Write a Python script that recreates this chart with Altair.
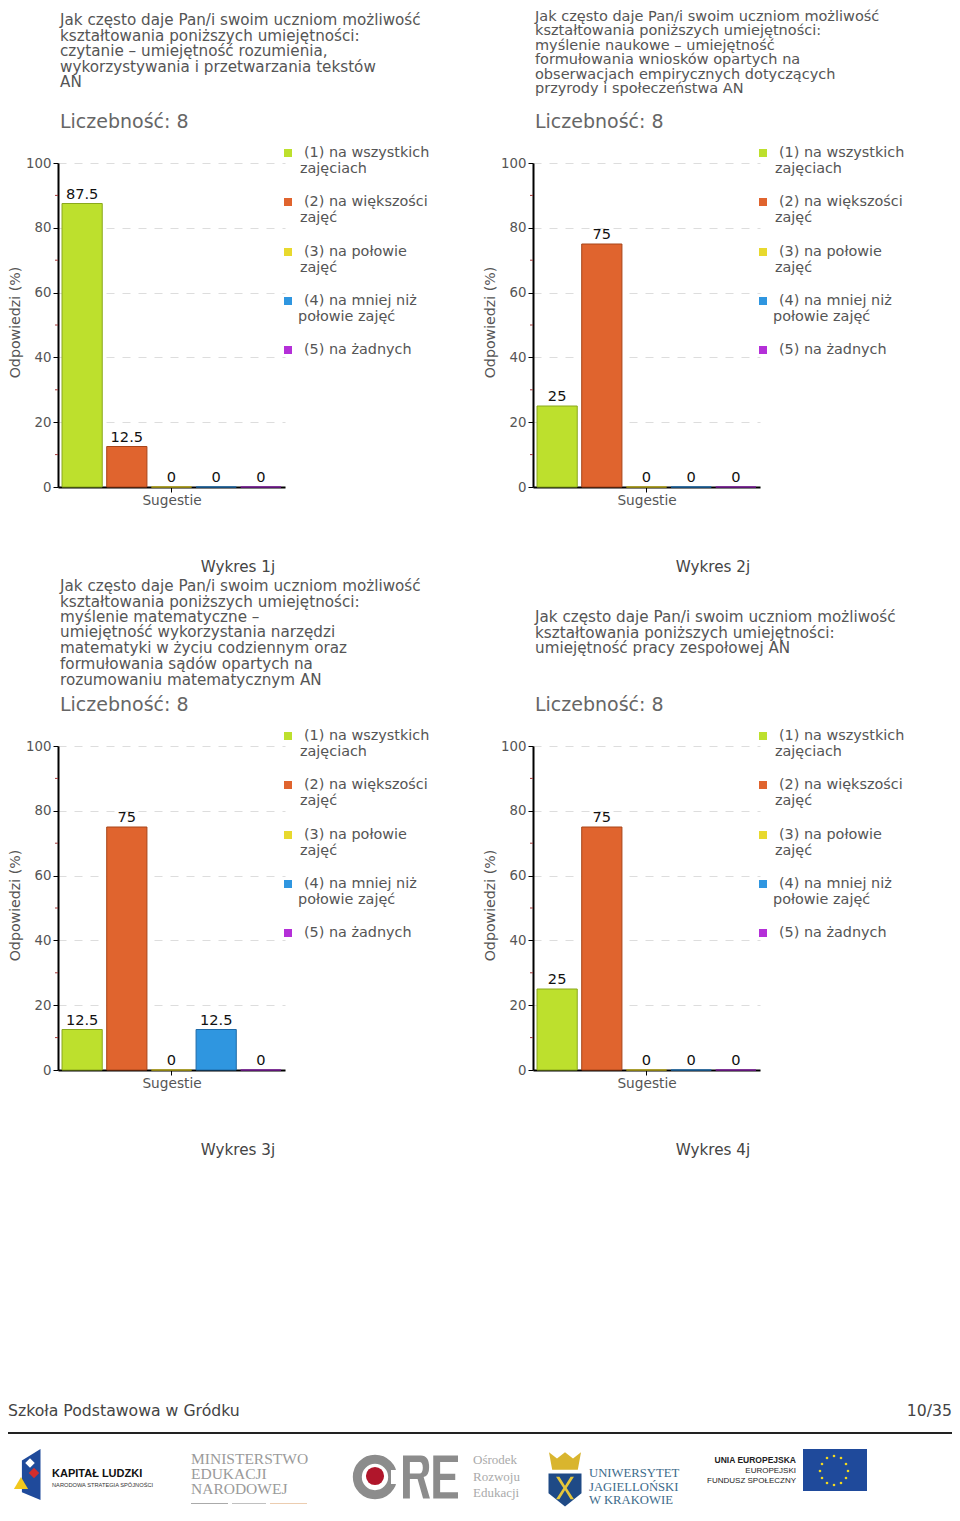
import altair as alt
import pandas as pd

categories = ["(1) na wszystkich zajęciach", "(2) na większości zajęć", "(3) na połowie zajęć",
              "(4) na mniej niż połowie zajęć", "(5) na żadnych"]
colors = ["#bde02d", "#e0642e", "#e8d92e", "#2f96e0", "#b42fd8"]
strokes = ["#8aa81c", "#a84418", "#b8a818", "#1f6aa8", "#7e1c9c"]
values_1 = [87.5, 12.5, 0, 0, 0]
values_2 = [25, 75, 0, 0, 0]
values_3 = [12.5, 75, 0, 12.5, 0]
values_4 = [25, 75, 0, 0, 0]
captions = ["Wykres 1j", "Wykres 2j", "Wykres 3j", "Wykres 4j"]
common_1 = "Jak często daje Pan/i swoim uczniom możliwość"
common_2 = "kształtowania poniższych umiejętności:"
question_1 = [common_1, common_2, "czytanie – umiejętność rozumienia,",
              "wykorzystywania i przetwarzania tekstów", "AN"]
question_2 = [common_1, common_2, "myślenie naukowe – umiejętność", "formułowania wniosków opartych na",
              "obserwacjach empirycznych dotyczących", "przyrody i społeczeństwa AN"]
question_3 = [common_1, common_2, "myślenie matematyczne –", "umiejętność wykorzystania narzędzi",
              "matematyki w życiu codziennym oraz", "formułowania sądów opartych na",
              "rozumowaniu matematycznym AN"]
question_4 = [common_1, common_2, "umiejętność pracy zespołowej AN"]
question_y_1 = [20, 36, 51, 67, 82]
question_y_2 = [16.5, 31, 45.5, 60, 74.5, 89]
question_y_3 = [586, 602, 617, 632, 648, 664, 680]
question_y_4 = [617, 633, 648]
legend_lines = [("(1) na wszystkich", "zajęciach"), ("(2) na większości", "zajęć"), ("(3) na połowie", "zajęć"),
                ("(4) na mniej niż", "połowie zajęć"), ("(5) na żadnych", "")]
legend_y = [152, 201, 251, 300, 349]
minor_ticks = [10, 30, 50, 70, 90]
count_label = "Liczebność: 8"
footer_left = "Szkoła Podstawowa w Gródku"
footer_right = "10/35"

FONT = "DejaVu Sans"
GREY = "#555555"
ONE = pd.DataFrame({"a": [0]})
PW, PH = 227, 324
P_X = [58, 533]
P_Y = [163, 746]


def txt(s, x, y, ox, oy, size=13, color=GREY, font=FONT, align="left", weight="normal", **kw):
    return alt.Chart(ONE).mark_text(text=s, font=font, fontSize=size, color=color, align=align,
                                    baseline="middle", fontWeight=weight, **kw).encode(
        x=alt.value(x - ox), y=alt.value(y - oy))


def box(x, x2, y, y2, ox, oy, color):
    return alt.Chart(ONE).mark_rect(color=color).encode(
        x=alt.value(x - ox), x2=alt.value(x2 - ox), y=alt.value(y - oy), y2=alt.value(y2 - oy))


def dot(x, y, ox, oy, color, size, shape="circle", filled=True, sw=0):
    return alt.Chart(ONE).mark_point(filled=filled, color=color, size=size, shape=shape, strokeWidth=sw,
                                     opacity=1).encode(x=alt.value(x - ox), y=alt.value(y - oy))


def panel(values, q_lines, q_ys, caption, col, row, q_size=15.2):
    ox, oy = P_X[col], P_Y[row]
    dx = ox - 58
    dy = oy - 163
    df = pd.DataFrame({"kat": categories, "v": values, "c": colors, "s": strokes,
                       "lab": [format(v, "g") for v in values]})
    x = alt.X("kat:N", sort=categories, title="Sugestie",
              scale=alt.Scale(paddingInner=0.1, paddingOuter=0.09),
              axis=alt.Axis(values=[categories[2]], labels=False, ticks=True, tickColor="#000000", tickSize=5,
                            tickWidth=1, domainColor="#000000", domainWidth=2, titleColor=GREY, titleFont=FONT,
                            titleFontSize=13.7, titleFontWeight="normal", titlePadding=1, grid=False))
    y = alt.Y("v:Q", title="Odpowiedzi (%)", scale=alt.Scale(domain=[0, 100], nice=False),
              axis=alt.Axis(values=[0, 20, 40, 60, 80, 100], tickColor="#000000", tickSize=5, domainColor="#000000",
                            domainWidth=2, labelColor=GREY, labelFont=FONT, labelFontSize=13.3, labelPadding=2,
                            titleColor=GREY, titleFont=FONT, titleFontSize=14.2, titleFontWeight="normal",
                            titlePadding=3, titleY=159, grid=True, gridColor="#dddddd", gridDash=[8, 8]))
    bars = alt.Chart(df).mark_bar(strokeWidth=1).encode(
        x=x, y=y, color=alt.Color("c:N", scale=None), stroke=alt.Stroke("s:N", scale=None))
    labels = alt.Chart(df).mark_text(baseline="bottom", dy=-2, font=FONT, fontSize=14.6, color="#111111").encode(
        x=alt.X("kat:N", sort=categories), y=alt.Y("v:Q"), text="lab:N")
    minor = alt.Chart(pd.DataFrame({"m": minor_ticks})).mark_rule(color="#a33a3a").encode(
        x=alt.value(-3), x2=alt.value(0), y=alt.Y("m:Q"))
    layers = [bars, minor, labels]
    for s, qy in zip(q_lines, q_ys):
        layers.append(txt(s, 60 + dx, qy, ox, oy, size=q_size))
    layers.append(txt(count_label, 60 + dx, 122 + dy, ox, oy, size=19, color="#666666"))
    for i, (a, b) in enumerate(zip([l[0] for l in legend_lines], [l[1] for l in legend_lines])):
        ly = legend_y[i] + dy
        layers.append(dot(288 + dx, ly + 1, ox, oy, colors[i], 64, "square"))
        layers.append(txt(a, 304 + dx, ly + 1, ox, oy, size=14.4))
        if b:
            layers.append(txt(b, (298 if i == 3 else 300) + dx, ly + 17, ox, oy, size=14.4))
    layers.append(txt(caption, 238 + dx, 567 + dy, ox, oy, size=15.2, color="#444444", align="center"))
    return alt.layer(*layers).properties(width=PW, height=PH)


def footer():
    ox, oy = 58, 1329
    L = []
    N = "Liberation Sans"
    S = "Liberation Serif"
    L.append(txt(footer_left, 8, 1411, ox, oy, size=15.7, color="#444444"))
    L.append(txt(footer_right, 952, 1411, ox, oy, size=15.7, color="#444444", align="right"))
    L.append(box(8, 952, 1432, 1434, ox, oy, "#222222"))
    # Kapitał Ludzki
    L.append(dot(27, 1474.5, ox, oy, "#1f4a9b", 2601, "M-0.2,-0.55 L0.53,-1 L0.53,1 L-0.2,0.7 Z"))
    L.append(dot(21, 1483, ox, oy, "#f2c81e", 200, "triangle-up"))
    L.append(dot(34, 1473, ox, oy, "#d22d2d", 110, "diamond"))
    L.append(dot(30, 1463, ox, oy, "#ffffff", 90, "diamond"))
    L.append(txt("KAPITAŁ LUDZKI", 52, 1474, ox, oy, size=11, color="#111111", font=N, weight="bold"))
    L.append(txt("NARODOWA STRATEGIA SPÓJNOŚCI", 52, 1485, ox, oy, size=5.7, color="#333333", font=N))
    # MEN
    for s, yy in zip(["MINISTERSTWO", "EDUKACJI", "NARODOWEJ"], [1459, 1474, 1489]):
        L.append(txt(s, 191, yy, ox, oy, size=15.5, color="#9a9a9a", font=S))
    L.append(box(191, 228, 1503, 1504, ox, oy, "#aaaaaa"))
    L.append(box(270, 307, 1503, 1504, ox, oy, "#eccdb0"))
    L.append(box(232, 266, 1503, 1504, ox, oy, "#c0c0c0"))
    # ORE
    L.append(dot(375, 1477, ox, oy, "#8c8c8c", 1250, "circle", False, 9))
    L.append(box(391, 402, 1470, 1484, ox, oy, "#ffffff"))
    L.append(dot(375, 1476, ox, oy, "#b0162b", 330))
    RE = ("M-1,-0.78 L-0.35,-0.78 Q-0.05,-0.78 -0.05,-0.35 Q-0.05,-0.05 -0.25,0 L-0.02,0.78 L-0.27,0.78 "
          "L-0.47,0.07 L-0.75,0.07 L-0.75,0.78 L-1,0.78 Z M-0.75,-0.55 L-0.75,-0.13 L-0.4,-0.13 "
          "Q-0.28,-0.13 -0.28,-0.34 Q-0.28,-0.55 -0.4,-0.55 Z "
          "M0.1,-0.78 L1,-0.78 L1,-0.55 L0.35,-0.55 L0.35,-0.12 L0.9,-0.12 L0.9,0.11 L0.35,0.11 "
          "L0.35,0.55 L1,0.55 L1,0.78 L0.1,0.78 Z")
    L.append(dot(430.5, 1477, ox, oy, "#8c8c8c", 3025, RE))
    for s, yy in zip(["Ośrodek", "Rozwoju", "Edukacji"], [1460, 1477, 1493]):
        L.append(txt(s, 473, yy, ox, oy, size=13, color="#aaaaaa", font=S))
    # UJ
    L.append(dot(565, 1461, ox, oy, "#d9b52e", 1024,
                 "M-1,-0.55 L-0.5,-0.15 L0,-0.55 L0.5,-0.15 L1,-0.55 L0.8,0.55 L-0.8,0.55 Z"))
    L.append(dot(565, 1490, ox, oy, "#1f4a86", 1089, "M-1,-1 L1,-1 L1,0.2 L0,1 L-1,0.2 Z"))
    L.append(dot(565, 1488, ox, oy, "#e5c63a", 500,
                 "M-0.8,-1 L-0.5,-1 L0,-0.2 L0.5,-1 L0.8,-1 L0.15,0 L0.8,1 L0.5,1 L0,0.2 L-0.5,1 L-0.8,1 L-0.15,0 Z"))
    for s, yy in zip(["UNIWERSYTET", "JAGIELLOŃSKI", "W KRAKOWIE"], [1473, 1487, 1500]):
        L.append(txt(s, 589, yy, ox, oy, size=12.7, color="#3b6a8a", font=S))
    # EU
    for s, yy, w, sz in zip(["UNIA EUROPEJSKA", "EUROPEJSKI", "FUNDUSZ SPOŁECZNY"], [1460, 1471, 1481],
                            ["bold", "normal", "normal"], [8.5, 8, 8]):
        L.append(txt(s, 796, yy, ox, oy, size=sz, color="#222222", font=N, align="right", weight=w))
    L.append(box(803, 867, 1449, 1491, ox, oy, "#1f4a9b"))
    stars = [(834, 1456), (841, 1458), (846, 1464), (848, 1471), (846, 1478), (841, 1483),
             (834, 1485), (827, 1483), (822, 1478), (820, 1471), (822, 1464), (827, 1458)]
    for sx, sy in stars:
        L.append(dot(sx, sy, ox, oy, "#f2d81e", 7))
    return alt.layer(*L).properties(width=880, height=180)


p1 = panel(values_1, question_1, question_y_1, captions[0], 0, 0)
p2 = panel(values_2, question_2, question_y_2, captions[1], 1, 0, q_size=14.5)
p3 = panel(values_3, question_3, question_y_3, captions[2], 0, 1)
p4 = panel(values_4, question_4, question_y_4, captions[3], 1, 1)

row1 = alt.hconcat(p1, p2, spacing=P_X[1] - P_X[0] - PW, bounds="flush")
row2 = alt.hconcat(p3, p4, spacing=P_X[1] - P_X[0] - PW, bounds="flush")
chart = alt.vconcat(row1, row2, footer(), spacing=583, bounds="flush").properties(
    padding=0).configure_view(stroke=None)
chart.save("out.html", embed_options={"renderer": "svg", "actions": False})
